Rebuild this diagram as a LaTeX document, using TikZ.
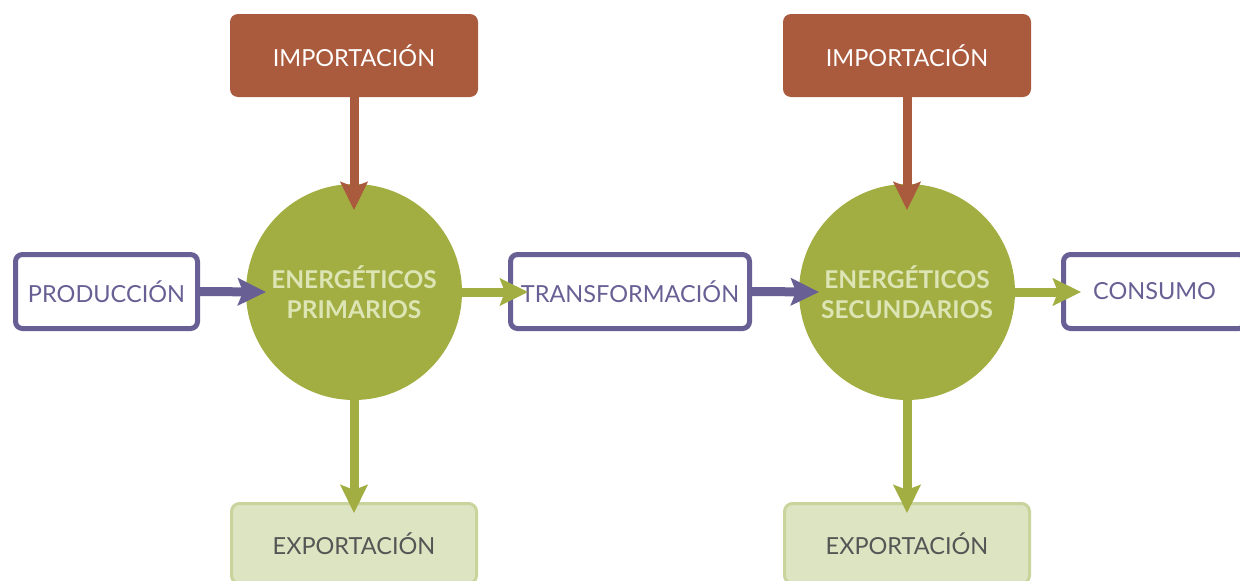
\documentclass[tikz,border=0pt]{standalone}
\usepackage{fontspec}
\setmainfont{Lato}
\usetikzlibrary{arrows.meta}
\definecolor{brownc}{HTML}{AB5B3D}
\definecolor{greenc}{HTML}{A2AE42}
\definecolor{purplec}{HTML}{686094}
\definecolor{lightfill}{HTML}{DDE4C1}
\definecolor{lightborder}{HTML}{C9D49D}
\definecolor{circtext}{HTML}{DDE5B5}
\definecolor{graytext}{HTML}{555555}
\tikzset{
  x=1pt, y=-1pt,
  impbox/.style={fill=brownc, rounded corners=8pt, minimum width=248pt, minimum height=83pt, inner sep=0pt, text=white, font=\fontsize{23.5}{26}\selectfont},
  expbox/.style={fill=lightfill, draw=lightborder, line width=3pt, rounded corners=8pt, minimum width=245pt, minimum height=80pt, inner sep=0pt, text=graytext, font=\fontsize{23.5}{26}\selectfont},
  pbox/.style={draw=purplec, fill=white, line width=5pt, rounded corners=7pt, minimum height=74pt, inner sep=0pt, text=purplec, font=\fontsize{23.5}{26}\selectfont},
  energy/.style={circle, fill=greenc, minimum size=216pt, inner sep=0pt, text=circtext, align=center, font=\bfseries\fontsize{24.5}{30}\selectfont},
  arr/.style={line width=9pt, -{Stealth[length=28pt,width=27pt,inset=5pt]}},
}
\begin{document}
\begin{tikzpicture}
\useasboundingbox (0,0) rectangle (1240,581);
\node[impbox] (imp1) at (354,55.5) {IMPORTACIÓN};
\node[impbox] (imp2) at (907,55.5) {IMPORTACIÓN};
\node[energy] (c1) at (354,292) {ENERGÉTICOS\\PRIMARIOS};
\node[energy] (c2) at (907,292) {ENERGÉTICOS\\SECUNDARIOS};
\node[pbox, minimum width=182pt] (prod) at (106.5,291.5) {PRODUCCIÓN};
\node[pbox, minimum width=239pt] (trans) at (630,291.5) {TRANSFORMACIÓN};
\node[pbox, minimum width=182pt] (cons) at (1154.5,291.5) {CONSUMO};
\node[expbox] (exp1) at (354,543.5) {EXPORTACIÓN};
\node[expbox] (exp2) at (907,543.5) {EXPORTACIÓN};
\coordinate (t1) at (354,210);
\coordinate (t2) at (907,210);
\coordinate (t3) at (266,292);
\coordinate (t4) at (528,292);
\coordinate (t5) at (819,292);
\coordinate (t6) at (1081,292);
\coordinate (t7) at (354,513);
\coordinate (t8) at (907,513);
\draw[arr, brownc] (imp1.south) -- (t1);
\draw[arr, brownc] (imp2.south) -- (t2);
\draw[arr, purplec] (prod.east) -- (t3);
\draw[arr, purplec] (trans.east) -- (t5);
\draw[arr, greenc] (c1.east) -- (t4);
\draw[arr, greenc] (c2.east) -- (t6);
\draw[arr, greenc] (c1.south) -- (t7);
\draw[arr, greenc] (c2.south) -- (t8);
\end{tikzpicture}
\end{document}
